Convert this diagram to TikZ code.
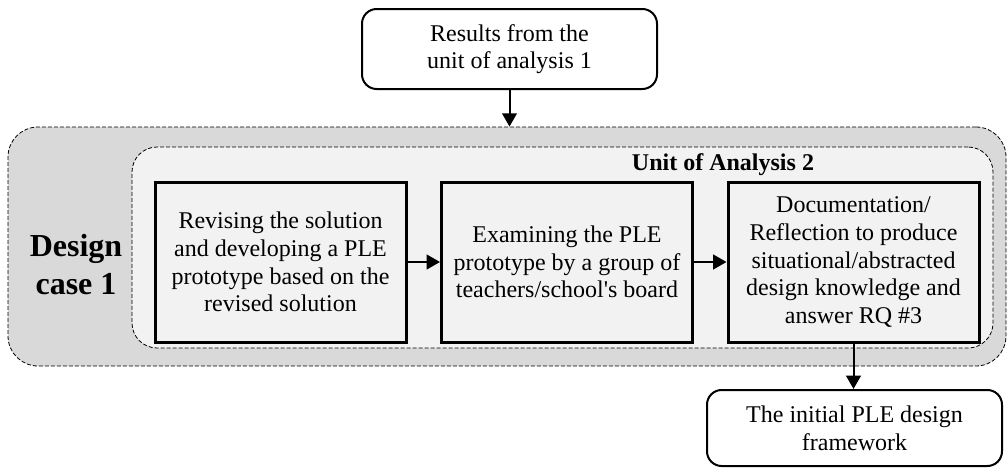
\documentclass[tikz,border=0pt]{standalone}
\usepackage{fontspec}
\setmainfont{Liberation Serif}[Ligatures=TeXOff]
\usetikzlibrary{arrows.meta}
\definecolor{casegray}{HTML}{D9D9D9}
\definecolor{unitgray}{HTML}{F2F2F2}
\begin{document}
\begin{tikzpicture}[x=0.75pt,y=-0.75pt,
  body/.style={font=\fontsize{18}{20.7}\selectfont, align=center, inner sep=0pt},
  endbox/.style={body, draw, fill=white, line width=1.5pt, rounded corners=11pt,
    minimum width=221.25pt},
  stepbox/.style={body, draw, fill=unitgray, line width=2.25pt,
    minimum width=188.25pt, minimum height=120pt},
  dashframe/.style={draw, dash pattern=on 3pt off 1.5pt, line width=0.6pt},
  flow/.style={line width=1.5pt, -{Triangle[length=10pt,width=11pt]}}]
\useasboundingbox (0,0) rectangle (1008,468);

% outer frame of the design case and the nested unit of analysis
\node (case) [dashframe, fill=casegray, rounded corners=22.5pt,
  minimum width=748.5pt, minimum height=179.25pt] at (507,246.5) {};
\node (unit) [dashframe, fill=unitgray, rounded corners=18.75pt,
  minimum width=645.75pt, minimum height=150.75pt] at (562.5,247.5) {};

\node (unitlabel) [body, font=\fontsize{18}{20.7}\selectfont\bfseries] at (723,165) {Unit of Analysis 2};
\node (caselabel) [align=center, font=\fontsize{24}{28.5}\selectfont\bfseries] at (76,265) {Design\\case 1};

% input and output
\node (input) [endbox, minimum height=60pt] at (509.5,49) {Results from the\\unit of analysis 1};
\node (output) [endbox, minimum height=57pt] at (854.5,428) {The initial PLE design\\framework};

% the three steps
\node (s1) [stepbox] at (280.5,262) {Revising the solution\\and developing a PLE\\prototype based on the\\revised solution};
\node (s2) [stepbox] at (567,262) {Examining the PLE\\prototype by a group of\\teachers/school's board};
\node (s3) [stepbox] at (853.5,262) {Documentation/\\Reflection to produce\\situational/abstracted\\design knowledge and\\answer RQ \#3};

% connectors
\draw[flow] (input.south) -- (input.south |- case.north);
\draw[flow] (s1) -- (s2);
\draw[flow] (s2) -- (s3);
\draw[flow] (s3.south) -- (s3.south |- output.north);
\end{tikzpicture}
\end{document}
